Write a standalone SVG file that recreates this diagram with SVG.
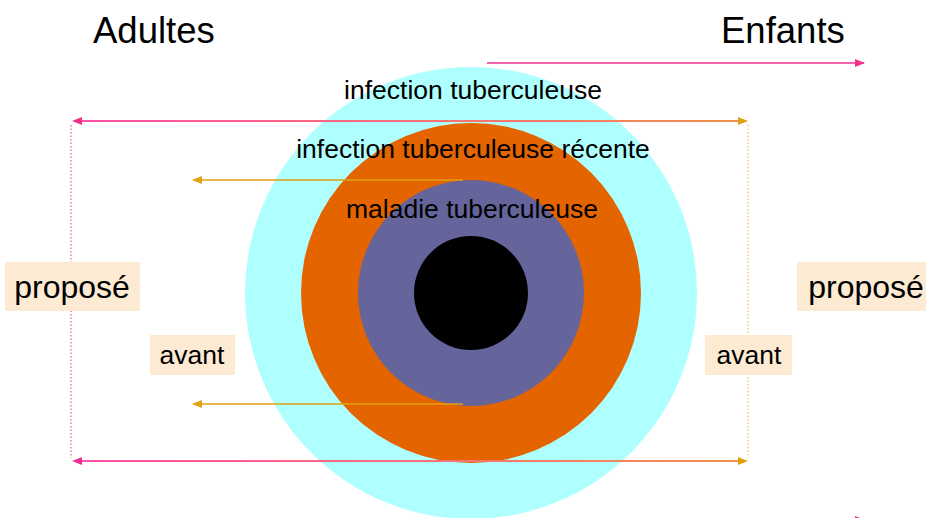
<svg xmlns="http://www.w3.org/2000/svg" width="926" height="518" viewBox="0 0 926 518">
<style>
text{font-family:"Liberation Sans",Arial,sans-serif;fill:#000}
.box{fill:#FCEAD2}
.pink{stroke:#F0308E;stroke-width:1.5;fill:none}
.org{stroke:#E0A010;stroke-width:1.5;fill:none}
</style>
<defs>
<linearGradient id="g" x1="72" y1="0" x2="748" y2="0" gradientUnits="userSpaceOnUse">
<stop offset="0" stop-color="#FF4FA8"/><stop offset="1" stop-color="#F0904A"/>
</linearGradient>
<marker id="mp" markerWidth="10" markerHeight="8" refX="9" refY="4" orient="auto" markerUnits="userSpaceOnUse"><path d="M0,0L10,4L0,8z" fill="#F0308E"/></marker>
<marker id="mo" markerWidth="10" markerHeight="8" refX="9" refY="4" orient="auto" markerUnits="userSpaceOnUse"><path d="M0,0L10,4L0,8z" fill="#E0A010"/></marker>
</defs>
<g id="rings">
<circle cx="471" cy="293" r="226" fill="#B0FFFF"/>
<circle cx="471" cy="293" r="170" fill="#E46400"/>
<circle cx="471" cy="293" r="113" fill="#65649B"/>
<circle cx="471" cy="293" r="57" fill="#000"/>
</g>
<g id="connectors">
<line x1="487" y1="63" x2="864" y2="63" class="pink" marker-end="url(#mp)"/>
<line x1="480" y1="520" x2="864" y2="520" stroke="#E0E0E0" stroke-width="1.5" marker-end="url(#mp)"/>
<line x1="71" y1="125" x2="71" y2="458" stroke="#F0308E" stroke-width="1" stroke-dasharray="1.5,2"/>
<line x1="748" y1="125" x2="748" y2="458" stroke="#F0B040" stroke-width="1" stroke-dasharray="1.5,2"/>
<path d="M80,121H740" stroke="url(#g)" stroke-width="2"/>
<path d="M80,461H740" stroke="url(#g)" stroke-width="2"/>
<path d="M72,121l10,-4v8z" fill="#F0308E"/>
<path d="M748,121l-10,-4v8z" fill="#E0A010"/>
<path d="M72,461l10,-4v8z" fill="#F0308E"/>
<path d="M748,461l-10,-4v8z" fill="#E0A010"/>
<line x1="463" y1="180" x2="193" y2="180" class="org" marker-end="url(#mo)"/>
<line x1="463" y1="404" x2="193" y2="404" class="org" marker-end="url(#mo)"/>
</g>
<g id="title-adultes"><text x="93" y="43" font-size="36.5">Adultes</text></g>
<g id="title-enfants"><text x="721" y="43" font-size="36.5">Enfants</text></g>
<g id="label-infection"><text x="473" y="99" font-size="26.5" text-anchor="middle">infection tuberculeuse</text></g>
<g id="label-recente"><text x="473" y="158" font-size="26.5" text-anchor="middle">infection tuberculeuse récente</text></g>
<g id="label-maladie"><text x="472" y="218" font-size="26.5" text-anchor="middle">maladie tuberculeuse</text></g>
<g id="propose-left"><rect class="box" x="5" y="262" width="135" height="49"/><text x="72" y="298" font-size="32" text-anchor="middle">proposé</text></g>
<g id="propose-right"><rect class="box" x="797" y="262" width="129" height="49"/><text x="866" y="298" font-size="32" text-anchor="middle">proposé</text></g>
<g id="avant-left"><rect class="box" x="150" y="335" width="85" height="40"/><text x="192" y="364" font-size="26.5" text-anchor="middle">avant</text></g>
<g id="avant-right"><rect class="box" x="705" y="335" width="87" height="40"/><text x="749" y="364" font-size="26.5" text-anchor="middle">avant</text></g>
</svg>
